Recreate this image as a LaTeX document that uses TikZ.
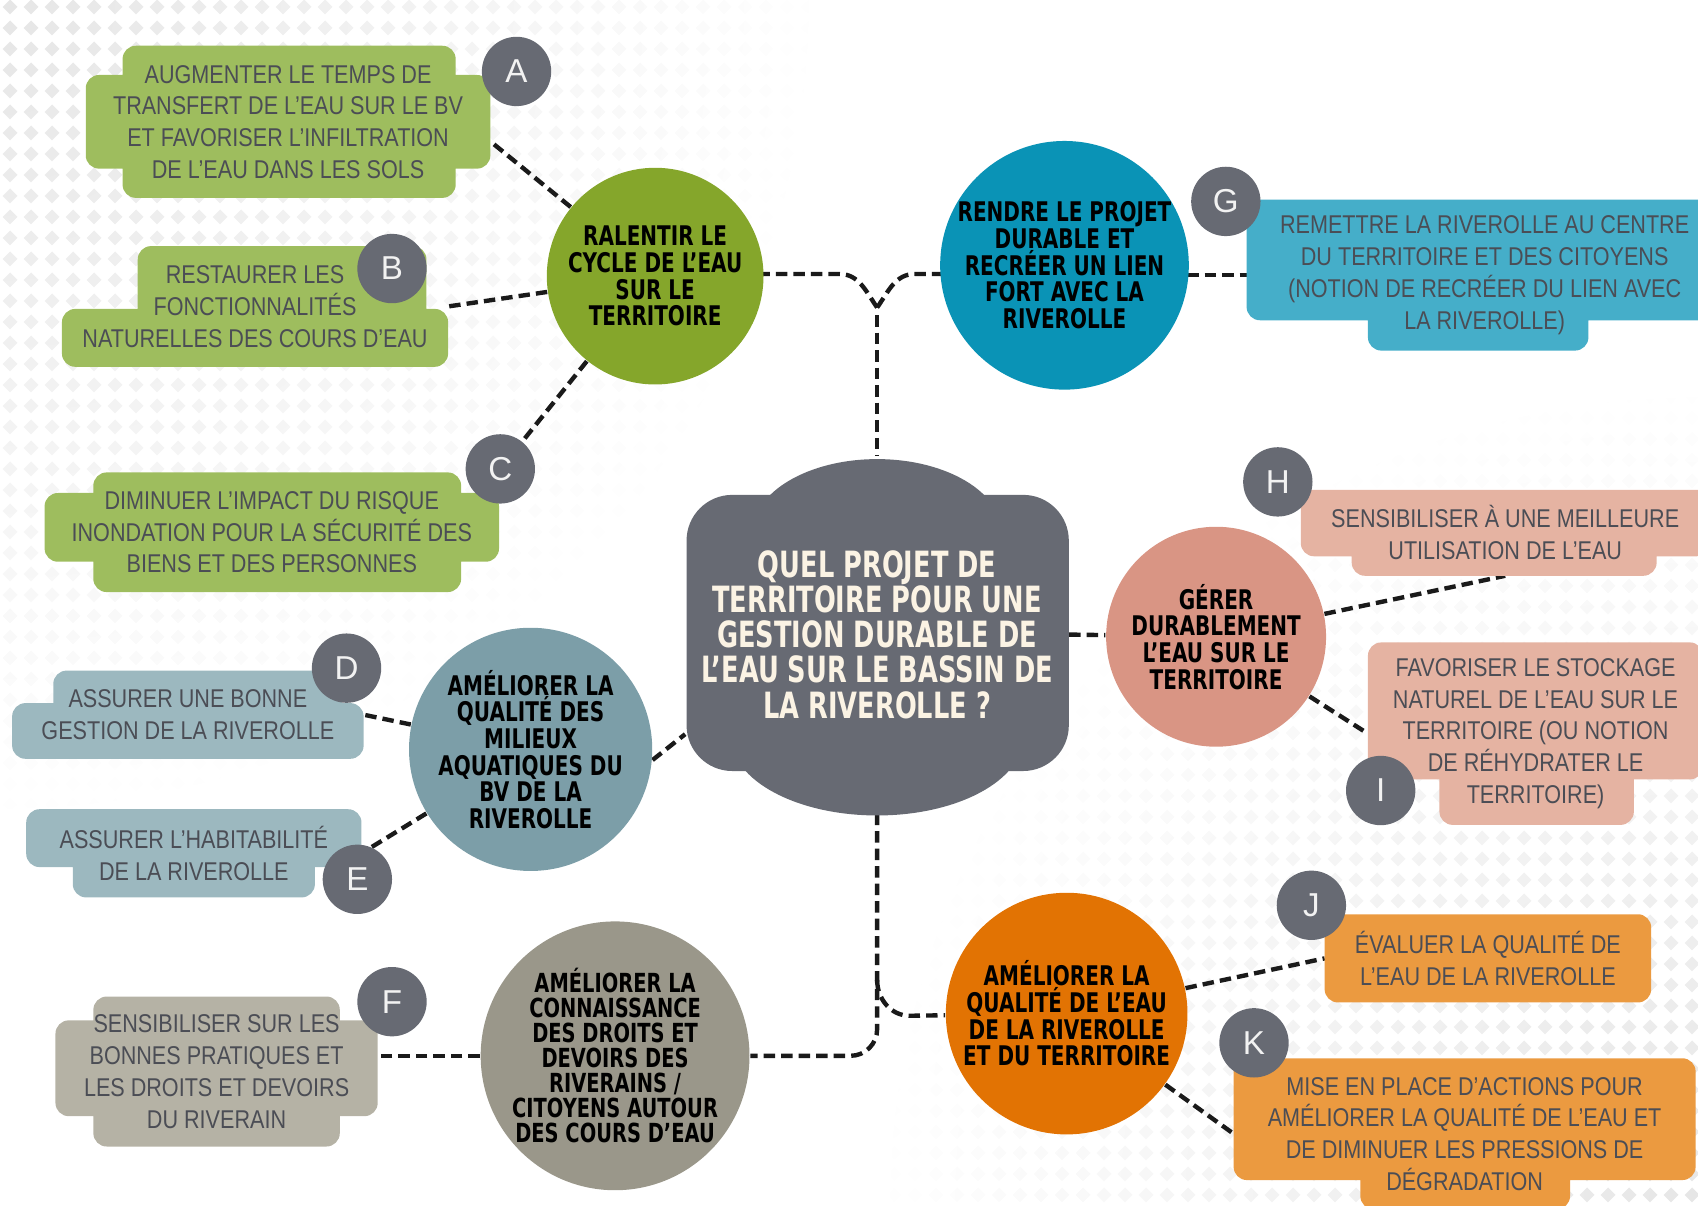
\documentclass[tikz,border=0pt]{standalone}
\usepackage{fontspec}
\usetikzlibrary{calc,patterns,fadings}

\newfontfamily\leaffont{Liberation Sans}[FakeStretch=0.84]
\newfontfamily\topicfont{DejaVu Sans}[FakeStretch=0.74]
\newfontfamily\hubfont{DejaVu Sans}[FakeStretch=0.71]
\newfontfamily\badgefont{Liberation Sans}

\definecolor{slate}{HTML}{676A73}
\definecolor{paper}{HTML}{FBF3E4}
\definecolor{ink}{HTML}{4B4D55}
\definecolor{dashink}{HTML}{1A1A1A}
\definecolor{dots}{HTML}{E6E6E6}
\definecolor{greentopic}{HTML}{85A62B}
\definecolor{greenleaf}{HTML}{9EBD5E}
\definecolor{tealtopic}{HTML}{0A93B6}
\definecolor{tealleaf}{HTML}{45AEC9}
\definecolor{salmontopic}{HTML}{D99584}
\definecolor{salmonleaf}{HTML}{E5B3A2}
\definecolor{bluetopic}{HTML}{7C9EA8}
\definecolor{blueleaf}{HTML}{9CB8BF}
\definecolor{taupetopic}{HTML}{9A978A}
\definecolor{taupeleaf}{HTML}{B5B2A5}
\definecolor{orangetopic}{HTML}{E27303}
\definecolor{orangeleaf}{HTML}{EB9A40}

% small diamonds of the backdrop
\pgfdeclarepatternformonly{diamonds}{\pgfpointorigin}{\pgfpoint{5.4pt}{5.4pt}}{\pgfpoint{5.4pt}{5.4pt}}{
    \pgfpathmoveto{\pgfpoint{2.7pt}{0.7pt}}
    \pgfpathlineto{\pgfpoint{4.7pt}{2.7pt}}
    \pgfpathlineto{\pgfpoint{2.7pt}{4.7pt}}
    \pgfpathlineto{\pgfpoint{0.7pt}{2.7pt}}
    \pgfpathclose
    \pgfusepath{fill}
}
\tikzfading[name=cornerfade, inner color=transparent!0, outer color=transparent!100]

\pgfdeclarelayer{backdrop}
\pgfdeclarelayer{links}
\pgfdeclarelayer{shapes}
\pgfsetlayers{backdrop,links,shapes,main}

\begin{document}
\begin{tikzpicture}[
    x=0.01cm, y=-0.01cm,
    link/.style={draw=dashink, line width=1.15pt, dash pattern=on 3pt off 1.6pt},
    tab/.style={rounded corners=3.5pt},
    topic/.style={circle, inner sep=0pt, align=center, text=black,
        font=\topicfont\bfseries\fontsize{7.1}{7}\selectfont},
    leaf/.style={inner sep=0pt, align=center, text=ink,
        font=\leaffont\fontsize{6.75}{8.34}\selectfont},
    badge/.style={circle, fill=slate, minimum size=0.64cm, inner sep=0pt, text=white!95!black,
        font=\badgefont\fontsize{8.7}{8.7}\selectfont},
    hubtext/.style={inner sep=0pt, align=center, text=paper,
        font=\hubfont\bfseries\fontsize{9.5}{9.25}\selectfont}
]
    \useasboundingbox (0,0) rectangle (1568,1113);

    % Central question
    \node[hubtext, minimum width=3.53cm, minimum height=3.29cm] (hub) at (810,586)
        {QUEL PROJET DE\\TERRITOIRE POUR UNE\\GESTION DURABLE DE\\L’EAU SUR LE BASSIN DE\\LA RIVEROLLE ?};

    % Themes
    \node[topic, fill=greentopic, minimum size=2cm] (ralentir) at (605,255)
        {RALENTIR LE\\CYCLE DE L’EAU\\SUR LE\\TERRITOIRE};
    \node[topic, fill=tealtopic, minimum size=2.28cm] (lien) at (983,245)
        {RENDRE LE PROJET\\DURABLE ET\\RECRÉER UN LIEN\\FORT AVEC LA\\RIVEROLLE};
    \node[topic, fill=salmontopic, minimum size=2.03cm] (gerer) at (1123,588)
        {GÉRER\\DURABLEMENT\\L’EAU SUR LE\\TERRITOIRE};
    \node[topic, fill=bluetopic, minimum size=2.2cm] (milieux) at (490,692)
        {AMÉLIORER LA\\QUALITÉ DES\\MILIEUX\\AQUATIQUES DU\\BV DE LA\\RIVEROLLE};
    \node[topic, fill=taupetopic, minimum size=2.36cm,
        font=\topicfont\bfseries\fontsize{6.9}{6.55}\selectfont] (droits) at (568,975)
        {AMÉLIORER LA\\CONNAISSANCE\\DES DROITS ET\\DEVOIRS DES\\RIVERAINS /\\CITOYENS AUTOUR\\DES COURS D’EAU};
    \node[topic, fill=orangetopic, minimum size=2.23cm] (qualite) at (985,936)
        {AMÉLIORER LA\\QUALITÉ DE L’EAU\\DE LA RIVEROLLE\\ET DU TERRITOIRE};

    % Actions
    \node[leaf, minimum width=3.72cm, minimum height=1.39cm] (boxA) at (266,112.5)
        {AUGMENTER LE TEMPS DE\\TRANSFERT DE L’EAU SUR LE BV\\ET FAVORISER L’INFILTRATION\\DE L’EAU DANS LES SOLS};
    \node[leaf, minimum width=3.55cm, minimum height=1.1cm] (boxB) at (235.5,283)
        {RESTAURER LES\\FONCTIONNALITÉS\\NATURELLES DES COURS D’EAU};
    \node[leaf, minimum width=4.18cm, minimum height=1.09cm] (boxC) at (251,491.5)
        {DIMINUER L’IMPACT DU RISQUE\\INONDATION POUR LA SÉCURITÉ DES\\BIENS ET DES PERSONNES};
    \node[leaf, minimum width=3.23cm, minimum height=0.8cm] (boxD) at (173.5,660)
        {ASSURER UNE BONNE\\GESTION DE LA RIVEROLLE};
    \node[leaf, minimum width=3.08cm, minimum height=0.8cm] (boxE) at (179,788)
        {ASSURER L’HABITABILITÉ\\DE LA RIVEROLLE};
    \node[leaf, minimum width=2.96cm, minimum height=1.37cm] (boxF) at (200,989.5)
        {SENSIBILISER SUR LES\\BONNES PRATIQUES ET\\LES DROITS ET DEVOIRS\\DU RIVERAIN};
    \node[leaf, minimum width=4.38cm, minimum height=1.38cm] (boxG) at (1371,254)
        {REMETTRE LA RIVEROLLE AU CENTRE\\DU TERRITOIRE ET DES CITOYENS\\(NOTION DE RECRÉER DU LIEN AVEC\\LA RIVEROLLE)};
    \node[leaf, minimum width=3.76cm, minimum height=0.78cm] (boxH) at (1390,492)
        {SENSIBILISER À UNE MEILLEURE\\UTILISATION DE L’EAU};
    \node[leaf, minimum width=3.08cm, minimum height=1.67cm] (boxI) at (1418,677.5)
        {FAVORISER LE STOCKAGE\\NATUREL DE L’EAU SUR LE\\TERRITOIRE (OU NOTION\\DE RÉHYDRATER LE\\TERRITOIRE)};
    \node[leaf, minimum width=3cm, minimum height=0.8cm] (boxJ) at (1374,885)
        {ÉVALUER LA QUALITÉ DE\\L’EAU DE LA RIVEROLLE};
    \node[leaf, minimum width=4.25cm, minimum height=1.38cm] (boxK) at (1352.5,1047)
        {MISE EN PLACE D’ACTIONS POUR\\AMÉLIORER LA QUALITÉ DE L’EAU ET\\DE DIMINUER LES PRESSIONS DE\\DÉGRADATION};

    % Letters
    \node[badge] (tagA) at (477,66) {A};
    \node[badge] (tagB) at (362,248) {B};
    \node[badge] (tagC) at (462,433) {C};
    \node[badge] (tagD) at (320,617) {D};
    \node[badge] (tagE) at (330,812) {E};
    \node[badge] (tagF) at (362,925) {F};
    \node[badge] (tagG) at (1132,186) {G};
    \node[badge] (tagH) at (1180,445) {H};
    \node[badge] (tagI) at (1275,730) {I};
    \node[badge] (tagJ) at (1211,836) {J};
    \node[badge] (tagK) at (1158,963) {K};

    \coordinate (topfork) at (810,284);
    \coordinate (lowfork) at (810,905);

    % Faded dotted backdrop in two corners
    \begin{pgfonlayer}{backdrop}
        \fill[pattern=diamonds, pattern color=dots, path fading=cornerfade] (-760,-760) rectangle (760,760);
        \fill[pattern=diamonds, pattern color=dots, path fading=cornerfade] (808,353) rectangle (2328,1873);
    \end{pgfonlayer}

    % Cloud and tab shapes behind the texts
    \begin{pgfonlayer}{shapes}
        \fill[slate, rounded corners=12pt] (634,457) rectangle (987,712);
        \fill[slate] (810,492) ellipse [x radius=1.15cm, y radius=0.68cm];
        \fill[slate] (810,680) ellipse [x radius=1.35cm, y radius=0.73cm];

        \fill[greenleaf, tab] ($(boxA.north west)+(34,0)$) rectangle ($(boxA.south east)+(-32,0)$)
            ($(boxA.north west)+(0,27)$) rectangle ($(boxA.south east)+(0,-27)$);
        \fill[greenleaf, tab] ($(boxB.north west)+(70,0)$) rectangle ($(boxB.south east)+(-20,0)$)
            ($(boxB.north west)+(0,58)$) rectangle (boxB.south east);
        \fill[greenleaf, tab] ($(boxC.north west)+(45,0)$) rectangle ($(boxC.south east)+(-35,0)$)
            ($(boxC.north west)+(0,19)$) rectangle ($(boxC.south east)+(0,-28)$);
        \fill[blueleaf, tab] ($(boxD.north west)+(38,0)$) rectangle ($(boxD.south east)+(-20,0)$)
            ($(boxD.north west)+(0,30)$) rectangle (boxD.south east);
        \fill[blueleaf, tab] ($(boxE.north west)+(43,0)$) rectangle ($(boxE.south east)+(-43,0)$)
            (boxE.north west) rectangle ($(boxE.south east)+(0,-28)$);
        \fill[taupeleaf, tab] ($(boxF.north west)+(35,0)$) rectangle ($(boxF.south east)+(-35,0)$)
            ($(boxF.north west)+(0,22)$) rectangle ($(boxF.south east)+(0,-28)$);
        \fill[tealleaf, tab] ($(boxG.north west)+(112,0)$) rectangle ($(boxG.south east)+(-124,0)$)
            (boxG.north west) rectangle ($(boxG.south east)+(0,-28)$);
        \fill[salmonleaf, tab] ($(boxH.north west)+(47,0)$) rectangle ($(boxH.south east)+(-49,0)$)
            (boxH.north west) rectangle ($(boxH.south east)+(0,-18)$);
        \fill[salmonleaf, tab] ($(boxI.north west)+(66,0)$) rectangle ($(boxI.south east)+(-64,0)$)
            (boxI.north west) rectangle ($(boxI.south east)+(0,-42)$);
        \fill[orangeleaf, tab] (boxJ.north west) rectangle (boxJ.south east);
        \fill[orangeleaf, tab] ($(boxK.north west)+(117,0)$) rectangle ($(boxK.south east)+(-116,0)$)
            (boxK.north west) rectangle ($(boxK.south east)+(0,-27)$);
    \end{pgfonlayer}

    % Dashed connections
    \begin{pgfonlayer}{links}
        % upper fork
        \draw[link] (topfork) to[out=125,in=0] (775,253) -- (ralentir.center |- 775,253);
        \draw[link] (topfork) to[out=55,in=180] (845,253) -- (lien.center |- 845,253);
        \draw[link] ([yshift=-2pt]topfork) -- (hub.north);
        % lower fork
        \draw[link, rounded corners=7pt] (hub.south) |- (droits);
        \draw[link] (lowfork) to[out=-90,in=180] (840,938) -- (qualite);
        \draw[link] (hub.east) -- (gerer);
        \draw[link] (milieux.-5) -- ($(hub.west)+(0,92)$);

        \draw[link] (ralentir) -- ($(boxA.east)+(0,18)$);
        \draw[link] (ralentir) -- (boxB.east);
        \draw[link] (ralentir) -- (tagC);
        \draw[link] (milieux) -- (boxD.east);
        \draw[link] (milieux) -- (boxE.east);
        \draw[link] (droits) -- (droits -| boxF.east);
        \draw[link] (lien.center |- boxG.west) -- (boxG.west);
        \draw[link] (gerer) -- (boxH.south);
        \draw[link] (gerer) -- (boxI.west);
        \draw[link] (qualite) -- (boxJ.west);
        \draw[link] (qualite) -- (boxK.west);
    \end{pgfonlayer}

\end{tikzpicture}
\end{document}
